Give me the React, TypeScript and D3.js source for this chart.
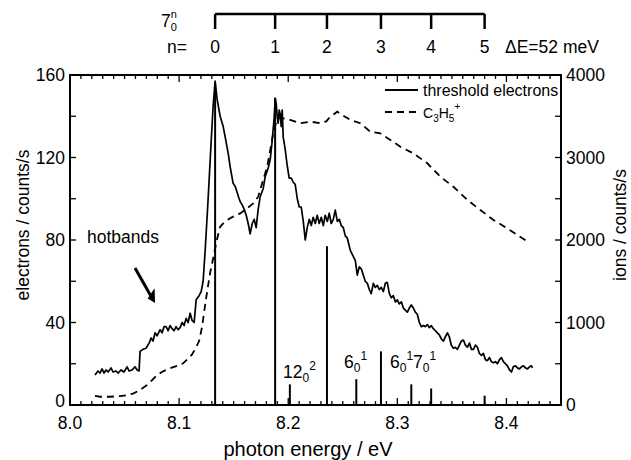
import React from "react";
import * as d3 from "d3";

// threshold electrons (left axis, counts/s)
const elecE = [8.0229,8.0257,8.0275,8.0294,8.0312,8.0330,8.0349,8.0376,8.0394,8.0422,8.0440,8.0468,8.0495,8.0523,8.0541,8.0569,8.0596,8.0615,8.0633,8.0642,8.0670,8.0697,8.0725,8.0743,8.0761,8.0780,8.0798,8.0826,8.0844,8.0862,8.0881,8.0899,8.0917,8.0936,8.0954,8.0972,8.0991,8.1009,8.1028,8.1046,8.1064,8.1083,8.1101,8.1119,8.1138,8.1156,8.1183,8.1202,8.1220,8.1239,8.1266,8.1294,8.1312,8.1330,8.1349,8.1376,8.1404,8.1422,8.1450,8.1468,8.1495,8.1514,8.1532,8.1550,8.1560,8.1578,8.1596,8.1615,8.1633,8.1651,8.1670,8.1688,8.1706,8.1725,8.1743,8.1771,8.1789,8.1817,8.1835,8.1853,8.1872,8.1881,8.1890,8.1899,8.1908,8.1917,8.1927,8.1936,8.1945,8.1954,8.1972,8.1991,8.2009,8.2028,8.2046,8.2064,8.2083,8.2101,8.2119,8.2138,8.2156,8.2174,8.2193,8.2211,8.2229,8.2248,8.2266,8.2284,8.2303,8.2321,8.2339,8.2358,8.2376,8.2394,8.2413,8.2431,8.2450,8.2468,8.2486,8.2505,8.2523,8.2541,8.2569,8.2587,8.2615,8.2633,8.2651,8.2670,8.2688,8.2706,8.2725,8.2743,8.2761,8.2780,8.2798,8.2817,8.2835,8.2853,8.2872,8.2890,8.2908,8.2927,8.2945,8.2963,8.2982,8.3000,8.3018,8.3037,8.3055,8.3073,8.3092,8.3110,8.3128,8.3147,8.3165,8.3183,8.3202,8.3220,8.3239,8.3257,8.3275,8.3294,8.3312,8.3330,8.3349,8.3367,8.3385,8.3404,8.3422,8.3440,8.3459,8.3477,8.3495,8.3514,8.3532,8.3550,8.3569,8.3587,8.3606,8.3624,8.3642,8.3661,8.3679,8.3697,8.3716,8.3734,8.3752,8.3771,8.3789,8.3807,8.3826,8.3844,8.3862,8.3881,8.3899,8.3917,8.3936,8.3954,8.3972,8.3991,8.4009,8.4028,8.4046,8.4064,8.4083,8.4101,8.4119,8.4138,8.4156,8.4174,8.4193,8.4211,8.4229,8.4239];
const elecV = [14.5,16.5,15.5,17.5,15.5,17,16,18,16,16.5,15.5,17,16,18.5,16.5,17,18.5,17,16.5,26,27,27.5,30,32.5,31,35,33.5,36.5,35,38,38,36,38.5,37,36,38,36.5,37.5,40,38.5,42,40,44.5,41,40,51,53,55,60,75,100,128,145,157,148,140,135,130,122,115.5,107.5,106,103,100,98.6,97,95,92,88,83,88,90,86,95,101,105,110.7,115,119,128,140,148.7,146,140,136.6,143,141,135,143,130,124,116,110,110,108,107,100,96,96,89,80,86,90,87,91,88,92,88,91,87,92,89,93,88,90,94.5,89,90,87,86,82,81,75,73,70,63,67,66,63,60,59,56,54,59,57,58,56,57,55,59,59.5,54,52,53,50,51,49,50,47,46,45,47,48.5,47,45,44,40,38,38.5,38,39,37.5,38.5,37,36,35,34,32,31,33,35,33,29,27.5,28,27,29,31,31.5,29,28,30,27,27,29,28,25,24,25,22,21.5,23,21,20.5,21,20,22,23,21,20,19,17,16,18.6,19,18,17.5,18.5,19,18,17.5,18.5,19,18];

// C3H5+ ions (right axis, counts/s)
const ionE = [8.0229,8.0275,8.0367,8.0459,8.0523,8.0578,8.0615,8.0661,8.0706,8.0752,8.0798,8.0853,8.0917,8.0982,8.1037,8.1083,8.1119,8.1156,8.1183,8.1211,8.1229,8.1248,8.1266,8.1284,8.1303,8.1321,8.1346,8.1376,8.1413,8.1440,8.1495,8.1560,8.1624,8.1679,8.1725,8.1761,8.1807,8.1835,8.1862,8.1899,8.1954,8.2018,8.2110,8.2202,8.2294,8.2349,8.2385,8.2450,8.2495,8.2569,8.2661,8.2752,8.2844,8.2936,8.3028,8.3147,8.3275,8.3394,8.3514,8.3642,8.3761,8.3881,8.4009,8.4101,8.4193];
const ionV = [110,100,100,108,120,138,163,200,243,300,363,408,445,475,505,563,613,700,775,950,1125,1300,1450,1600,1718,1838,2000,2160,2213,2243,2283,2323,2385,2443,2525,2688,2888,3090,3290,3475,3475,3455,3415,3435,3415,3438,3495,3555,3515,3455,3415,3313,3293,3213,3130,3050,2930,2768,2645,2485,2363,2243,2140,2060,1980];

// stick spectrum (left axis units)
const stickE = [8.133, 8.188, 8.2355, 8.2015, 8.2624, 8.285, 8.3128, 8.331, 8.380];
const stickH = [156, 149, 77, 10, 12.5, 26, 10, 8, 4.5];

// 7_0^n progression
const progE = [8.133, 8.188, 8.2355, 8.285, 8.331, 8.380];
const progN = ["0", "1", "2", "3", "4", "5"];

const xTicks = [8.0, 8.1, 8.2, 8.3, 8.4];
const yLeftTicks = [0, 40, 80, 120, 160];
const yRightTicks = [0, 1000, 2000, 3000, 4000];

const FONT = "'Liberation Sans', Arial, sans-serif";

export default function App() {
  const W = 631, H = 460;
  const L = 70, R = 561, T = 75, B = 405;
  const x = d3.scaleLinear().domain([8.0, 8.45]).range([L, R]);
  const yL = d3.scaleLinear().domain([0, 160]).range([B, T]);
  const yR = d3.scaleLinear().domain([0, 4000]).range([B, T]);

  const elecLine = d3.line<number>().x((d, i) => x(elecE[i])).y((d) => yL(d));
  const ionLine = d3.line<number>().x((d, i) => x(ionE[i])).y((d) => yR(d));

  const minorX = d3.range(0, 46).map((i) => 8 + i * 0.01);
  const minorYL = d3.range(0, 9).map((i) => i * 20);
  const minorYR = d3.range(0, 9).map((i) => i * 500);

  const fs = 17.5;

  return (
    <svg width={W} height={H} style={{ position: "absolute", left: 0, top: 0, background: "#fff" }} fontFamily={FONT}>
      <rect x={0} y={0} width={W} height={H} fill="#fff" />
      {/* progression bar */}
      <g stroke="#000" strokeWidth={2.5}>
        <line x1={x(progE[0])} x2={x(progE[progE.length - 1])} y1={14} y2={14} />
        {progE.map((e, i) => (
          <line key={i} x1={x(e)} x2={x(e)} y1={14} y2={29} />
        ))}
      </g>
      {progE.map((e, i) => (
        <text key={i} x={x(e)} y={53} fontSize={fs} textAnchor="middle">{progN[i]}</text>
      ))}
      <text x={187} y={53} fontSize={fs} textAnchor="end">n=</text>
      <text x={161} y={27} fontSize={fs}>
        7<tspan fontSize={11} dy={4}>0</tspan><tspan fontSize={11} dx={-6} dy={-13}>n</tspan>
      </text>
      <text x={505} y={53} fontSize={fs}>ΔE=52 meV</text>

      {/* sticks */}
      <g stroke="#000" strokeWidth={2}>
        {stickE.map((e, i) => (
          <line key={i} x1={x(e)} x2={x(e)} y1={yL(0)} y2={yL(stickH[i])} />
        ))}
      </g>

      {/* curves */}
      <path d={ionLine(ionV) || ""} fill="none" stroke="#000" strokeWidth={1.8} strokeDasharray="7,5" />
      <path d={elecLine(elecV) || ""} fill="none" stroke="#000" strokeWidth={1.7} strokeLinejoin="round" />

      {/* frame */}
      <rect x={L} y={T} width={R - L} height={B - T} fill="none" stroke="#000" strokeWidth={2} />

      {/* ticks */}
      <g stroke="#000" strokeWidth={1.3}>
        {minorX.map((v, i) => {
          const len = i % 10 === 0 ? 7 : 4;
          return (
            <g key={i}>
              <line x1={x(v)} x2={x(v)} y1={B} y2={B - len} />
              <line x1={x(v)} x2={x(v)} y1={T} y2={T + len} />
            </g>
          );
        })}
        {minorYL.map((v, i) => (
          <line key={"l" + i} x1={L} x2={L + 6} y1={yL(v)} y2={yL(v)} />
        ))}
        {minorYR.map((v, i) => (
          <line key={"r" + i} x1={R} x2={R - 6} y1={yR(v)} y2={yR(v)} />
        ))}
      </g>

      {xTicks.map((v) => (
        <text key={v} x={x(v)} y={429} fontSize={fs} textAnchor="middle">{v.toFixed(1)}</text>
      ))}
      {yLeftTicks.map((v) => (
        <text key={v} x={L - 5} y={yL(v) + (v === 0 ? 2 : 6)} fontSize={fs} textAnchor="end">{v}</text>
      ))}
      {yRightTicks.map((v) => (
        <text key={v} x={R + 5} y={yR(v) + 6} fontSize={fs} textAnchor="start">{v}</text>
      ))}

      <text x={308} y={456} fontSize={20} textAnchor="middle">photon energy / eV</text>
      <text transform={`translate(29,${(T + B) / 2 - 15}) rotate(-90)`} fontSize={fs} textAnchor="middle">electrons / counts/s</text>
      <text transform={`translate(626,${(T + B) / 2 - 15}) rotate(-90)`} fontSize={fs} textAnchor="middle">ions / counts/s</text>

      {/* legend */}
      <line x1={385} x2={418} y1={90} y2={90} stroke="#000" strokeWidth={2} />
      <text x={423} y={96} fontSize={16}>threshold electrons</text>
      <line x1={385} x2={418} y1={112} y2={112} stroke="#000" strokeWidth={2} strokeDasharray="7,5" />
      <text x={423} y={118} fontSize={14}>
        C<tspan fontSize={10} dy={4}>3</tspan><tspan dy={-4}>H</tspan><tspan fontSize={10} dy={4}>5</tspan><tspan fontSize={10} dy={-12}>+</tspan>
      </text>

      {/* hotbands annotation */}
      <text x={x(8.0156)} y={yL(81.6) + 6} fontSize={fs}>hotbands</text>
      <line x1={x(8.0596)} y1={yL(66.4)} x2={x(8.0745)} y2={yL(52.5)} stroke="#000" strokeWidth={3} />
      <path
        d={`M${x(8.078)},${yL(49.5)} L${x(8.0712)},${yL(51.6)} L${x(8.0775)},${yL(56.6)} Z`}
        fill="#000"
      />

      {/* band labels */}
      <text x={283} y={378} fontSize={fs}>
        12<tspan fontSize={12} dy={4}>0</tspan><tspan fontSize={12} dy={-12}>2</tspan>
      </text>
      <text x={344} y={368} fontSize={fs}>
        6<tspan fontSize={12} dy={4}>0</tspan><tspan fontSize={12} dy={-12}>1</tspan>
      </text>
      <text x={390} y={368} fontSize={fs}>
        6<tspan fontSize={12} dy={4}>0</tspan><tspan fontSize={12} dy={-12}>1</tspan><tspan dy={8}>7</tspan><tspan fontSize={12} dy={4}>0</tspan><tspan fontSize={12} dy={-12}>1</tspan>
      </text>
    </svg>
  );
}
